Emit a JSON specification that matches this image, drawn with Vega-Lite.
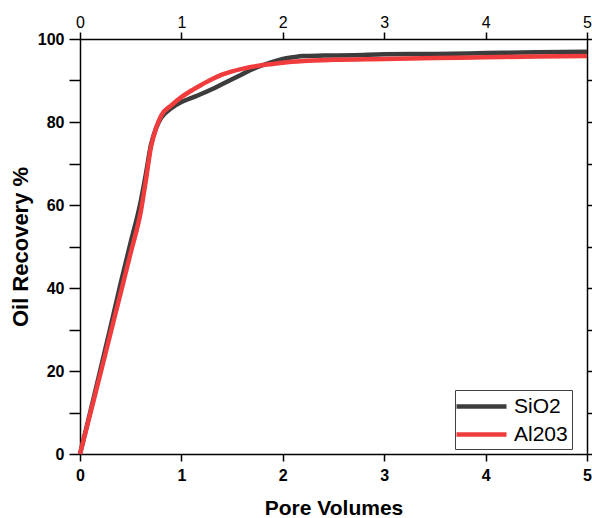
{
  "$schema": "https://vega.github.io/schema/vega-lite/v6.json",
  "autosize": {"type": "none"},
  "width": 507,
  "height": 415,
  "padding": {"left": 80, "top": 39, "right": 5, "bottom": 64},
  "background": "white",
  "config": {
    "font": "Liberation Sans",
    "view": {"stroke": null},
    "axis": {"grid": false, "domainColor": "#000000", "domainWidth": 1.5, "tickColor": "#000000", "tickWidth": 1.5, "labelColor": "#000000", "titleColor": "#000000", "tickSize": 7}
  },
  "data": {
    "values": [
      {"pv": 0, "rec": 0, "series": "SiO2"},
      {"pv": 0.1, "rec": 10, "series": "SiO2"},
      {"pv": 0.2, "rec": 20.2, "series": "SiO2"},
      {"pv": 0.3, "rec": 30.5, "series": "SiO2"},
      {"pv": 0.4, "rec": 41, "series": "SiO2"},
      {"pv": 0.5, "rec": 51, "series": "SiO2"},
      {"pv": 0.6, "rec": 61, "series": "SiO2"},
      {"pv": 0.65, "rec": 67.5, "series": "SiO2"},
      {"pv": 0.7, "rec": 74.5, "series": "SiO2"},
      {"pv": 0.75, "rec": 78.5, "series": "SiO2"},
      {"pv": 0.8, "rec": 81, "series": "SiO2"},
      {"pv": 0.9, "rec": 83.3, "series": "SiO2"},
      {"pv": 1.0, "rec": 84.8, "series": "SiO2"},
      {"pv": 1.1, "rec": 85.8, "series": "SiO2"},
      {"pv": 1.2, "rec": 86.8, "series": "SiO2"},
      {"pv": 1.3, "rec": 87.9, "series": "SiO2"},
      {"pv": 1.4, "rec": 89.1, "series": "SiO2"},
      {"pv": 1.5, "rec": 90.3, "series": "SiO2"},
      {"pv": 1.6, "rec": 91.5, "series": "SiO2"},
      {"pv": 1.7, "rec": 92.7, "series": "SiO2"},
      {"pv": 1.8, "rec": 93.7, "series": "SiO2"},
      {"pv": 1.9, "rec": 94.5, "series": "SiO2"},
      {"pv": 2.0, "rec": 95.2, "series": "SiO2"},
      {"pv": 2.1, "rec": 95.6, "series": "SiO2"},
      {"pv": 2.2, "rec": 95.9, "series": "SiO2"},
      {"pv": 2.4, "rec": 96.0, "series": "SiO2"},
      {"pv": 2.7, "rec": 96.1, "series": "SiO2"},
      {"pv": 3.0, "rec": 96.3, "series": "SiO2"},
      {"pv": 3.5, "rec": 96.4, "series": "SiO2"},
      {"pv": 4.0, "rec": 96.6, "series": "SiO2"},
      {"pv": 4.5, "rec": 96.8, "series": "SiO2"},
      {"pv": 5.0, "rec": 96.9, "series": "SiO2"},
      {"pv": 0, "rec": 0, "series": "Al203"},
      {"pv": 0.1, "rec": 9.6, "series": "Al203"},
      {"pv": 0.2, "rec": 19.2, "series": "Al203"},
      {"pv": 0.3, "rec": 29, "series": "Al203"},
      {"pv": 0.4, "rec": 38.7, "series": "Al203"},
      {"pv": 0.5, "rec": 48.5, "series": "Al203"},
      {"pv": 0.6, "rec": 58.5, "series": "Al203"},
      {"pv": 0.65, "rec": 66, "series": "Al203"},
      {"pv": 0.7, "rec": 74, "series": "Al203"},
      {"pv": 0.75, "rec": 78.5, "series": "Al203"},
      {"pv": 0.8, "rec": 81.5, "series": "Al203"},
      {"pv": 0.9, "rec": 84, "series": "Al203"},
      {"pv": 1.0, "rec": 86, "series": "Al203"},
      {"pv": 1.1, "rec": 87.6, "series": "Al203"},
      {"pv": 1.2, "rec": 89, "series": "Al203"},
      {"pv": 1.3, "rec": 90.3, "series": "Al203"},
      {"pv": 1.4, "rec": 91.4, "series": "Al203"},
      {"pv": 1.5, "rec": 92.2, "series": "Al203"},
      {"pv": 1.6, "rec": 92.8, "series": "Al203"},
      {"pv": 1.7, "rec": 93.3, "series": "Al203"},
      {"pv": 1.8, "rec": 93.7, "series": "Al203"},
      {"pv": 1.9, "rec": 94.0, "series": "Al203"},
      {"pv": 2.0, "rec": 94.3, "series": "Al203"},
      {"pv": 2.2, "rec": 94.7, "series": "Al203"},
      {"pv": 2.5, "rec": 95.0, "series": "Al203"},
      {"pv": 3.0, "rec": 95.2, "series": "Al203"},
      {"pv": 3.5, "rec": 95.4, "series": "Al203"},
      {"pv": 4.0, "rec": 95.6, "series": "Al203"},
      {"pv": 4.5, "rec": 95.8, "series": "Al203"},
      {"pv": 5.0, "rec": 95.9, "series": "Al203"}
    ]
  },
  "layer": [
    {
      "mark": {"type": "point", "opacity": 0},
      "encoding": {
        "x": {"field": "pv", "type": "quantitative", "scale": {"domain": [0, 5], "nice": false, "zero": false},
          "axis": {"orient": "top", "title": null, "values": [0, 0.5, 1, 1.5, 2, 2.5, 3, 3.5, 4, 4.5, 5], "format": "d",
            "labelExpr": "datum.value % 1 == 0 ? datum.label : ''", "labelFontSize": 16, "labelFontWeight": "normal",
            "labelPadding": 2, "labelFlush": false, "labelOverlap": false,
            "encode": {"ticks": {"update": {"y2": {"signal": "datum.value % 1 == 0 ? 7 : 5"}}}}}},
        "y": {"field": "rec", "type": "quantitative", "scale": {"domain": [0, 100], "nice": false},
          "axis": {"orient": "right", "title": null, "labels": false, "values": [0, 10, 20, 30, 40, 50, 60, 70, 80, 90, 100],
            "encode": {"ticks": {"update": {"x2": {"signal": "datum.value % 20 == 0 ? -7 : -4"}}}}}}
      }
    },
    {
      "mark": {"type": "line", "strokeWidth": 4.5, "interpolate": "monotone"},
      "encoding": {
        "x": {"field": "pv", "type": "quantitative",
          "axis": {"orient": "bottom", "title": "Pore Volumes", "titleFontSize": 21, "titleFontWeight": "bold", "titlePadding": 14,
            "values": [0, 0.5, 1, 1.5, 2, 2.5, 3, 3.5, 4, 4.5, 5], "format": "d",
            "labelExpr": "datum.value % 1 == 0 ? datum.label : ''", "labelFontSize": 16, "labelFontWeight": "bold", "labelPadding": 6, "labelFlush": false, "labelOverlap": false,
            "encode": {"ticks": {"update": {"y2": {"signal": "datum.value % 1 == 0 ? 7 : 4"}}}}}},
        "y": {"field": "rec", "type": "quantitative",
          "axis": {"orient": "left", "title": "Oil Recovery %", "titleFontSize": 22, "titleFontWeight": "bold", "titlePadding": 5,
            "values": [0, 10, 20, 30, 40, 50, 60, 70, 80, 90, 100], "tickSize": 11,
            "labelExpr": "datum.value % 20 == 0 ? datum.label : ''", "labelFontSize": 16, "labelFontWeight": "bold", "labelPadding": 5, "labelOverlap": false, "labelFlush": false,
            "encode": {"ticks": {"update": {"x2": {"signal": "datum.value % 20 == 0 ? -11 : -4"}}}}}},
        "color": {"field": "series", "type": "nominal",
          "scale": {"domain": ["SiO2", "Al203"], "range": ["#3c3c3c", "#f03c3c"]},
          "legend": {"orient": "none", "legendX": 375, "legendY": 351, "title": null, "symbolType": "stroke", "symbolSize": 400, "symbolStrokeWidth": 4.5, "symbolOffset": 10,
            "labelFontSize": 21, "labelColor": "#000000", "labelOffset": 20, "strokeColor": "#404040", "padding": 4, "rowPadding": 5, "fillColor": "white",
            "encode": {"symbols": {"update": {"shape": {"value": "M-2.5,0H2.5"}}}}}}
      }
    }
  ],
  "resolve": {"axis": {"x": "independent", "y": "independent"}}
}
